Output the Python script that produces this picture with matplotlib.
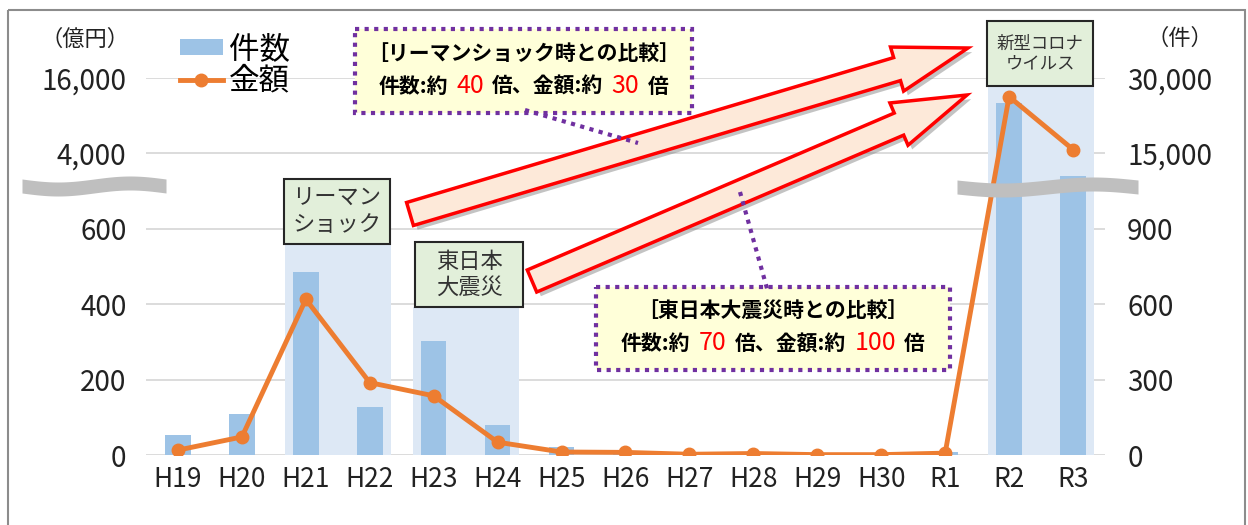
import numpy as np
import matplotlib.pyplot as plt
import matplotlib.patches as mpatches
import matplotlib.patheffects as pe
from matplotlib.offsetbox import TextArea, HPacker, VPacker, AnnotationBbox

plt.rcParams['font.family'] = ['Noto Sans CJK JP', 'DejaVu Sans']

# データ
years = ['H19', 'H20', 'H21', 'H22', 'H23', 'H24', 'H25', 'H26',
         'H27', 'H28', 'H29', 'H30', 'R1', 'R2', 'R3']
kensu = [80, 163, 730, 191, 454, 120, 32, 4, 2, 3, 2, 2, 12, 25100, 10870]   # 件数 (右軸)
kingaku = [13, 48, 413, 192, 157, 34, 8, 7, 2, 4, 1, 1, 5, 13040, 4620]     # 金額 億円 (左軸)

left_ticks = [0, 200, 400, 600, 4000, 16000]
right_ticks = [0, 300, 600, 900, 15000, 30000]
# 軸の途中を省略するための区切り
left_breaks = [0, 600, 4000, 16000]
right_breaks = [0, 900, 15000, 30000]
seg_units = [0, 3, 4, 5]

# 強調する期間 (最初と最後の年の位置, 右軸の高さ)
periods = [(2, 3, 835), (4, 5, 588), (13, 14, 29600)]


def make_scale(breaks):
    b = np.array(breaks, float)
    u = np.array(seg_units, float)
    return (lambda v: np.interp(v, b, u)), (lambda v: np.interp(v, u, b))


fig = plt.figure(figsize=(12.48, 5.25), dpi=100)
ax = fig.add_axes([0.117, 0.1333, 0.7684, 0.7181])
ax2 = ax.twinx()
ax.set_zorder(3)
ax.patch.set_visible(False)

x = np.arange(len(years))

ax2.set_yscale('function', functions=make_scale(right_breaks))
ax2.set_ylim(0, 30000)
ax.set_yscale('function', functions=make_scale(left_breaks))
ax.set_ylim(0, 16000)
ax.set_xlim(-0.5, len(years) - 0.5)

# 背景の網掛け
for a, b, top in periods:
    ax2.add_patch(mpatches.Rectangle((a - 0.33, 0), b - a + 0.66, top,
                                     fc='#DDE8F5', ec='none', zorder=1))

bars = ax2.bar(x, kensu, width=0.4, color='#9DC3E6', zorder=2, label='件数')
line, = ax.plot(x, kingaku, color='#ED7D31', lw=3.5, marker='o', ms=9,
                zorder=4, label='金額')

ax2.set_yticks(right_ticks)
ax2.set_yticklabels([f'{v:,}' for v in right_ticks])
ax.set_yticks(left_ticks)
ax.set_yticklabels([f'{v:,}' for v in left_ticks])
ax.set_xticks(x)
ax.set_xticklabels(years)
ax2.grid(axis='y', color='#D9D9D9', lw=1.3)
ax2.set_axisbelow(True)

ax.tick_params(axis='y', length=0, labelsize=20, pad=14, labelcolor='#222222')
ax2.tick_params(axis='y', length=0, labelsize=20, pad=16, labelcolor='#222222')
ax.tick_params(axis='x', length=0, labelsize=19, pad=8, labelcolor='#222222')
for a_ in (ax, ax2):
    for s in a_.spines.values():
        s.set_visible(False)

ax.legend([bars, line], ['件数', '金額'], loc='upper left',
          bbox_to_anchor=(180 / 1248, 1 - 34 / 525), bbox_transform=fig.transFigure,
          frameon=False, fontsize=22, handlelength=1.4, handleheight=0.45,
          handletextpad=0.2, labelspacing=0.02, borderpad=0, borderaxespad=0)

# 重ね書き用 (ピクセル座標)
ov = fig.add_axes([0, 0, 1, 1], zorder=10)
ov.set_xlim(0, 1248)
ov.set_ylim(525, 0)
ov.axis('off')

ov.add_patch(mpatches.Rectangle((8, 10), 1237, 530, fill=False, ec='#8C8C8C', lw=1.5))
ov.text(85, 39, '（億円）', fontsize=16, ha='center', va='center', color='#222222')
ov.text(1180, 38, '（件）', fontsize=16, ha='center', va='center', color='#222222')

# 省略記号 (波線)
for x0, x1, yc in [(22, 166, 186), (957, 1138, 187)]:
    xs = np.linspace(x0, x1, 120)
    ys = yc + 3 * np.sin(2 * np.pi * (xs - x0) / (x1 - x0))
    ov.fill_between(xs, ys - 7, ys + 7, color='#BFBFBF', lw=0)

# ラベルの箱
for x0, y0, x1, y1, txt, fs in [(284, 179, 390, 244, 'リーマン\nショック', 16),
                                (415, 242, 523, 307, '東日本\n大震災', 16),
                                (987, 21, 1093, 86, '新型コロナ\nウイルス', 12.5)]:
    ov.add_patch(mpatches.Rectangle((x0, y0), x1 - x0, y1 - y0, fc='#E2EFDA',
                                    ec='#262626', lw=1.5))
    ov.text((x0 + x1) / 2, (y0 + y1) / 2, txt, ha='center', va='center',
            fontsize=fs, linespacing=1.15, color='#333333')

# 矢印
shadow = [pe.SimplePatchShadow(offset=(3, -3), shadow_rgbFace='#888888', alpha=0.5),
          pe.Normal()]
for (tx, ty), (hx, hy) in [((410, 214), (968, 48)), ((532, 281), (967, 95))]:
    arr = mpatches.FancyArrow(tx, ty, hx - tx, hy - ty, width=24, head_width=46,
                              head_length=74, length_includes_head=True,
                              fc='#FDE9D9', ec='#FF0000', lw=2.5)
    arr.set_path_effects(shadow)
    ov.add_patch(arr)

# 引き出し線
for (ax0, ay0), (ax1, ay1) in [((525, 110), (638, 143)), ((740, 192), (768, 292))]:
    ov.plot([ax0, ax1], [ay0, ay1], color='#7030A0', lw=3, ls=(0, (1, 1.3)))


# 比較の箱
def compare_box(x0, y0, x1, y1, title, n1, n2):
    ov.add_patch(mpatches.Rectangle((x0, y0), x1 - x0, y1 - y0, fc='#FFFFD9',
                                    ec='#7030A0', lw=3, ls=(0, (1, 1.3))))
    tp = dict(fontsize=15, fontweight='bold', color='black')
    rp = dict(fontsize=18, color='#FF0000')
    row = HPacker(children=[TextArea('件数:約', textprops=tp),
                            TextArea(n1, textprops=rp),
                            TextArea('倍、金額:約', textprops=tp),
                            TextArea(n2, textprops=rp),
                            TextArea('倍', textprops=tp)],
                  pad=0, sep=6, align='baseline')
    box = VPacker(children=[TextArea(title, textprops=tp), row],
                  pad=0, sep=6, align='center')
    ab = AnnotationBbox(box, ((x0 + x1) / 2, (y0 + y1) / 2), frameon=False,
                        box_alignment=(0.5, 0.5), xycoords='data')
    ov.add_artist(ab)


compare_box(355, 29, 692, 113, '［リーマンショック時との比較］', '40', '30')
compare_box(596, 287, 950, 370, '［東日本大震災時との比較］', '70', '100')

fig.savefig('out.png', dpi=100)
